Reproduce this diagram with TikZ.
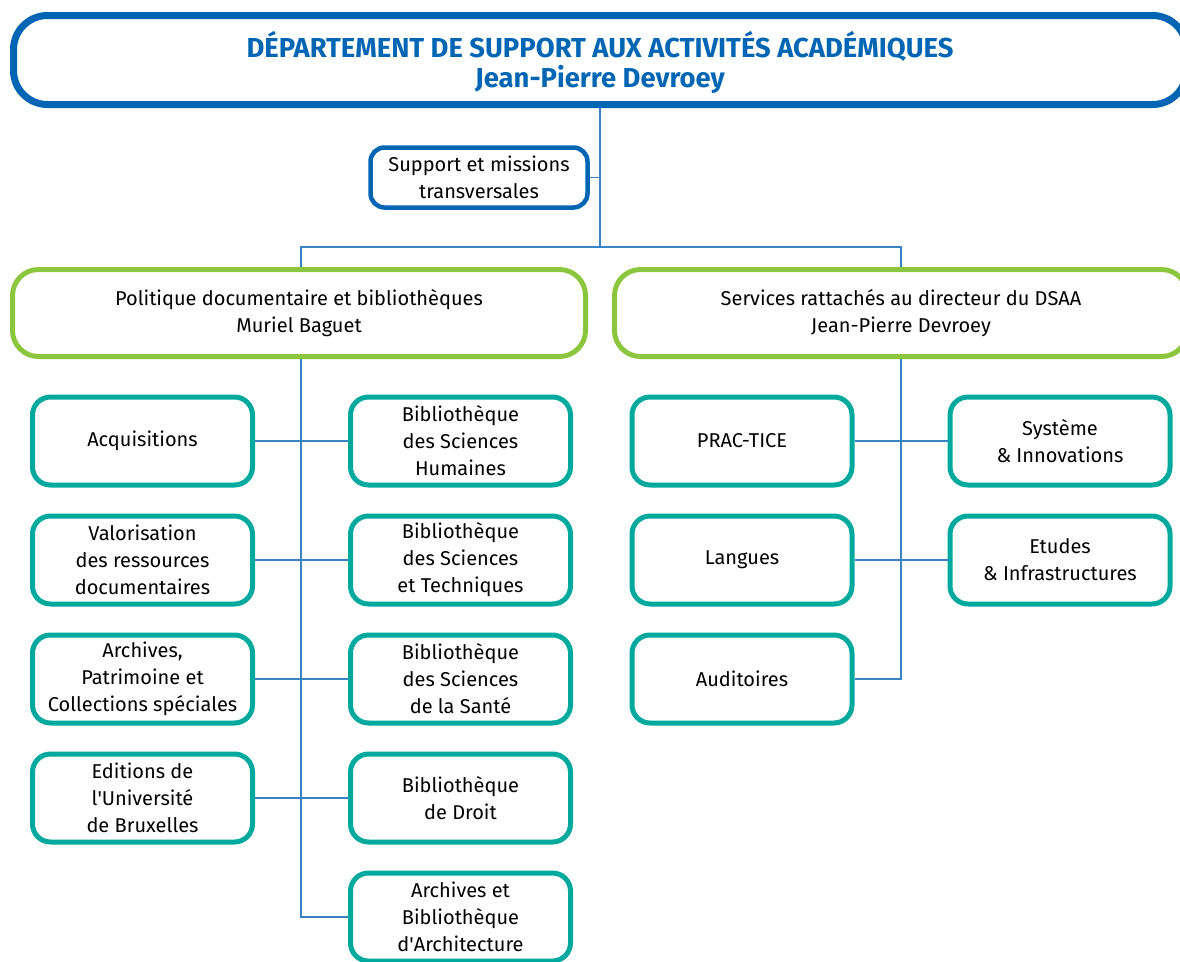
\documentclass[tikz,border=0pt]{standalone}
\usepackage{fontspec}
\setmainfont{Fira Sans}
\usepackage{tikz}

\definecolor{dsaablue}{HTML}{0066B3}
\definecolor{dsaagreen}{HTML}{8CC63F}
\definecolor{dsaateal}{HTML}{00A99D}
\definecolor{linkblue}{HTML}{3A82C4}

\tikzset{
        headbox/.style={draw=dsaablue, line width=7pt, rounded corners=34pt,
                minimum width=1173pt, minimum height=89pt},
        headtext/.style={text=dsaablue, align=center,
                font=\fontsize{27.4}{30}\selectfont\bfseries},
        supbox/.style={draw=dsaablue, line width=4.5pt, rounded corners=14pt,
                minimum width=217pt, minimum height=60pt, align=center},
        polebox/.style={draw=dsaagreen, line width=5pt, rounded corners=26pt,
                minimum width=573pt, minimum height=87pt, align=center},
        unitbox/.style={draw=dsaateal, line width=5pt, rounded corners=18pt,
                minimum width=220pt, minimum height=88pt, align=center, inner sep=2pt},
        link/.style={draw=linkblue, line width=1.4pt}
}

\begin{document}
\begin{tikzpicture}[x=1pt, y=-1pt, font=\fontsize{20}{27}\selectfont]
        \clip (0,0) rectangle (1180,961);
        \useasboundingbox (0,0) rectangle (1180,961);

        \node[headbox] (dsaa) at (600,60) {};
        \node[headtext] (dsaatxt) at (600,62)
                {DÉPARTEMENT DE SUPPORT AUX ACTIVITÉS ACADÉMIQUES\\Jean-Pierre Devroey};

        \node[supbox] (sup) at (479,177.5) {Support et missions\\transversales};

        \node[polebox] (bib) at (299,313) {Politique documentaire et bibliothèques\\Muriel Baguet};
        \node[polebox] (dir) at (901,313) {Services rattachés au directeur du DSAA\\Jean-Pierre Devroey};

        \node[unitbox] (acq) at (142.5,441) {Acquisitions};
        \node[unitbox] (valo) at (142.5,560) {Valorisation\\des ressources\\documentaires};
        \node[unitbox] (arch) at (142.5,679) {Archives,\\Patrimoine et\\Collections spéciales};
        \node[unitbox] (edit) at (142.5,798) {Editions de\\l\textquotesingle Université\\de Bruxelles};

        \node[unitbox] (bsh) at (460.5,441) {Bibliothèque\\des Sciences\\Humaines};
        \node[unitbox] (bst) at (460.5,560) {Bibliothèque\\des Sciences\\et Techniques};
        \node[unitbox] (bss) at (460.5,679) {Bibliothèque\\des Sciences\\de la Santé};
        \node[unitbox] (bdr) at (460.5,798) {Bibliothèque\\de Droit};
        \node[unitbox] (barc) at (460.5,917) {Archives et\\Bibliothèque\\d\textquotesingle Architecture};

        \node[unitbox] (prac) at (742,441) {PRAC-TICE};
        \node[unitbox] (lang) at (742,560) {Langues};
        \node[unitbox] (audi) at (742,679) {Auditoires};
        \node[unitbox] (sysi) at (1060,441) {Système\\\& Innovations};
        \node[unitbox] (etud) at (1060,560) {Etudes\\\& Infrastructures};

        \coordinate (fork) at (600,247);
        \coordinate (bibtop) at (301,247);
        \coordinate (dirtop) at (901,247);
        \coordinate (bibend) at (301,917);
        \coordinate (dirend) at (901,679);

        \draw[link] (dsaa.south -| fork) -- (fork);
        \draw[link] (sup.east) -- (sup.east -| fork);
        \draw[link] (bib.north -| bibtop) -- (bibtop) -- (dirtop) -- (dir.north -| dirtop);

        \draw[link] (bib.south -| bibtop) -- (bibend) -- (barc.west);
        \draw[link] (acq.east) -- (bsh.west);
        \draw[link] (valo.east) -- (bst.west);
        \draw[link] (arch.east) -- (bss.west);
        \draw[link] (edit.east) -- (bdr.west);

        \draw[link] (dir.south -| dirtop) -- (dirend) -- (audi.east);
        \draw[link] (prac.east) -- (sysi.west);
        \draw[link] (lang.east) -- (etud.west);
\end{tikzpicture}
\end{document}
